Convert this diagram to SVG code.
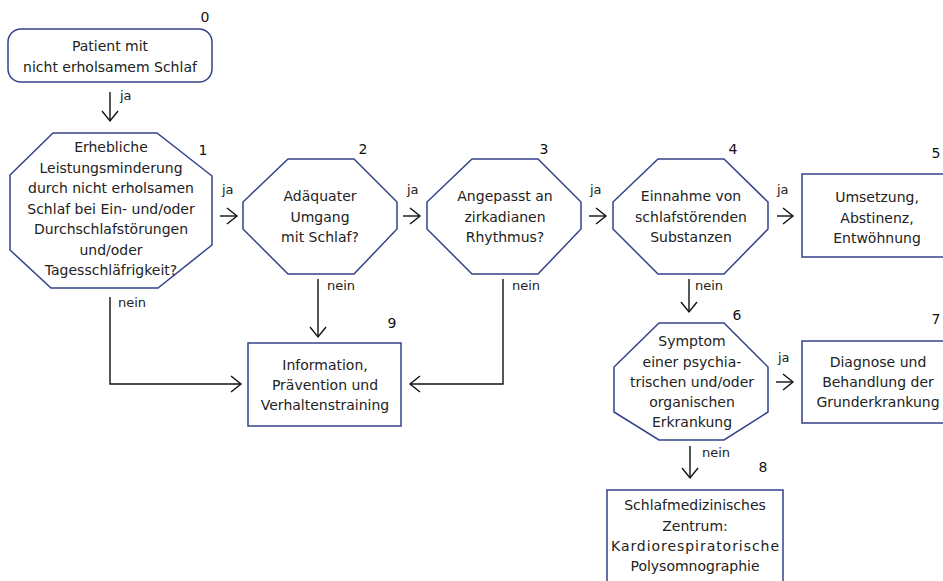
<svg xmlns="http://www.w3.org/2000/svg" width="943" height="581" viewBox="0 0 943 581">
<style>
.node{fill:#fff;stroke:#34428a;stroke-width:1.5}
.t{font-family:"DejaVu Sans","Liberation Sans",sans-serif;font-size:14px;fill:#222;text-anchor:middle}
.num{font-family:"DejaVu Sans","Liberation Sans",sans-serif;font-size:14px;fill:#111;text-anchor:middle}
.lbl{font-family:"DejaVu Sans","Liberation Sans",sans-serif;font-size:13px;fill:#222}
.c{fill:none;stroke:#111;stroke-width:1.4}
</style>
<defs>
<marker id="ah" markerUnits="userSpaceOnUse" viewBox="-12 -10 14 20" refX="0" refY="0" markerWidth="14" markerHeight="20" orient="auto" overflow="visible">
<path d="M-10,-8 L0,0 L-10,8" fill="none" stroke="#111" stroke-width="1.4"/>
</marker>
</defs>
<rect width="943" height="581" fill="#fff"/>
<g id="connectors">
<path class="c" d="M110,92 V121" marker-end="url(#ah)"/>
<path class="c" d="M220,216 H237" marker-end="url(#ah)"/>
<path class="c" d="M403,216 H420" marker-end="url(#ah)"/>
<path class="c" d="M589,216 H606" marker-end="url(#ah)"/>
<path class="c" d="M777,216 H793" marker-end="url(#ah)"/>
<path class="c" d="M689,279 V312" marker-end="url(#ah)"/>
<path class="c" d="M776,382 H793" marker-end="url(#ah)"/>
<path class="c" d="M690,446 V478" marker-end="url(#ah)"/>
<path class="c" d="M110,297 V384 H241" marker-end="url(#ah)"/>
<path class="c" d="M318,279 V337" marker-end="url(#ah)"/>
<path class="c" d="M503,279 V384 H410" marker-end="url(#ah)"/>
<text class="lbl" x="120" y="100">ja</text>
<text class="lbl" x="222" y="194">ja</text>
<text class="lbl" x="407" y="194">ja</text>
<text class="lbl" x="590" y="194">ja</text>
<text class="lbl" x="777" y="194">ja</text>
<text class="lbl" x="778" y="362">ja</text>
<text class="lbl" x="118" y="307">nein</text>
<text class="lbl" x="327" y="290">nein</text>
<text class="lbl" x="512" y="290">nein</text>
<text class="lbl" x="695" y="290">nein</text>
<text class="lbl" x="702" y="457">nein</text>
</g>
<g id="node0">
<rect class="node" x="8" y="29" width="204" height="53" rx="13"/>
<text class="t" x="110" y="51">Patient mit</text>
<text class="t" x="110" y="72">nicht erholsamem Schlaf</text>
<text class="num" x="205" y="22">0</text>
</g>
<g id="node1">
<polygon class="node" points="53,133 157,133 212,176 212,245 158,288 51,288 10,250 10,175"/>
<text class="t" x="111" y="152">Erhebliche</text>
<text class="t" x="111" y="172.5">Leistungsminderung</text>
<text class="t" x="111" y="193">durch nicht erholsamen</text>
<text class="t" x="111" y="213.5">Schlaf bei Ein- und/oder</text>
<text class="t" x="111" y="234">Durchschlafstörungen</text>
<text class="t" x="111" y="254.5">und/oder</text>
<text class="t" x="111" y="275">Tagesschläfrigkeit?</text>
<text class="num" x="203" y="155">1</text>
</g>
<g id="node2">
<polygon class="node" points="288,159 354,159 397,202 397,229 354,274 288,274 243,229 243,202"/>
<text class="t" x="320" y="201">Adäquater</text>
<text class="t" x="320" y="221.5">Umgang</text>
<text class="t" x="320" y="242">mit Schlaf?</text>
<text class="num" x="363" y="154">2</text>
</g>
<g id="node3">
<polygon class="node" points="472,159 538,159 581,202 581,229 538,274 472,274 427,229 427,202"/>
<text class="t" x="505" y="201">Angepasst an</text>
<text class="t" x="505" y="221.5">zirkadianen</text>
<text class="t" x="505" y="242">Rhythmus?</text>
<text class="num" x="544" y="154">3</text>
</g>
<g id="node4">
<polygon class="node" points="658,159 724,159 768,202 768,229 724,274 658,274 613,229 613,202"/>
<text class="t" x="691" y="201">Einnahme von</text>
<text class="t" x="691" y="221.5">schlafstörenden</text>
<text class="t" x="691" y="242">Substanzen</text>
<text class="num" x="733" y="154">4</text>
</g>
<g id="node5">
<rect class="node" x="802" y="174" width="150" height="83"/>
<text class="t" x="877" y="202">Umsetzung,</text>
<text class="t" x="877" y="222.5">Abstinenz,</text>
<text class="t" x="877" y="243">Entwöhnung</text>
<text class="num" x="936" y="158">5</text>
</g>
<g id="node6">
<polygon class="node" points="659,323 724,323 768,367 768,412 724,440 659,440 614,412 614,367"/>
<text class="t" x="692" y="346">Symptom</text>
<text class="t" x="692" y="366.5">einer psychia-</text>
<text class="t" x="692" y="386.5">trischen und/oder</text>
<text class="t" x="692" y="407">organischen</text>
<text class="t" x="692" y="427">Erkrankung</text>
<text class="num" x="737" y="320">6</text>
</g>
<g id="node7">
<rect class="node" x="802" y="341" width="150" height="82"/>
<text class="t" x="878" y="367">Diagnose und</text>
<text class="t" x="878" y="387">Behandlung der</text>
<text class="t" x="878" y="407">Grunderkrankung</text>
<text class="num" x="936" y="324">7</text>
</g>
<g id="node8">
<rect class="node" x="607" y="490" width="176" height="100"/>
<text class="t" x="695" y="510">Schlafmedizinisches</text>
<text class="t" x="695" y="531">Zentrum:</text>
<text class="t" x="695" y="551" textLength="168">Kardiorespiratorische</text>
<text class="t" x="695" y="571">Polysomnographie</text>
<text class="num" x="763" y="472">8</text>
</g>
<g id="node9">
<rect class="node" x="248" y="343" width="153" height="83"/>
<text class="t" x="325" y="370">Information,</text>
<text class="t" x="325" y="390">Prävention und</text>
<text class="t" x="325" y="410">Verhaltenstraining</text>
<text class="num" x="392" y="328">9</text>
</g>
</svg>
